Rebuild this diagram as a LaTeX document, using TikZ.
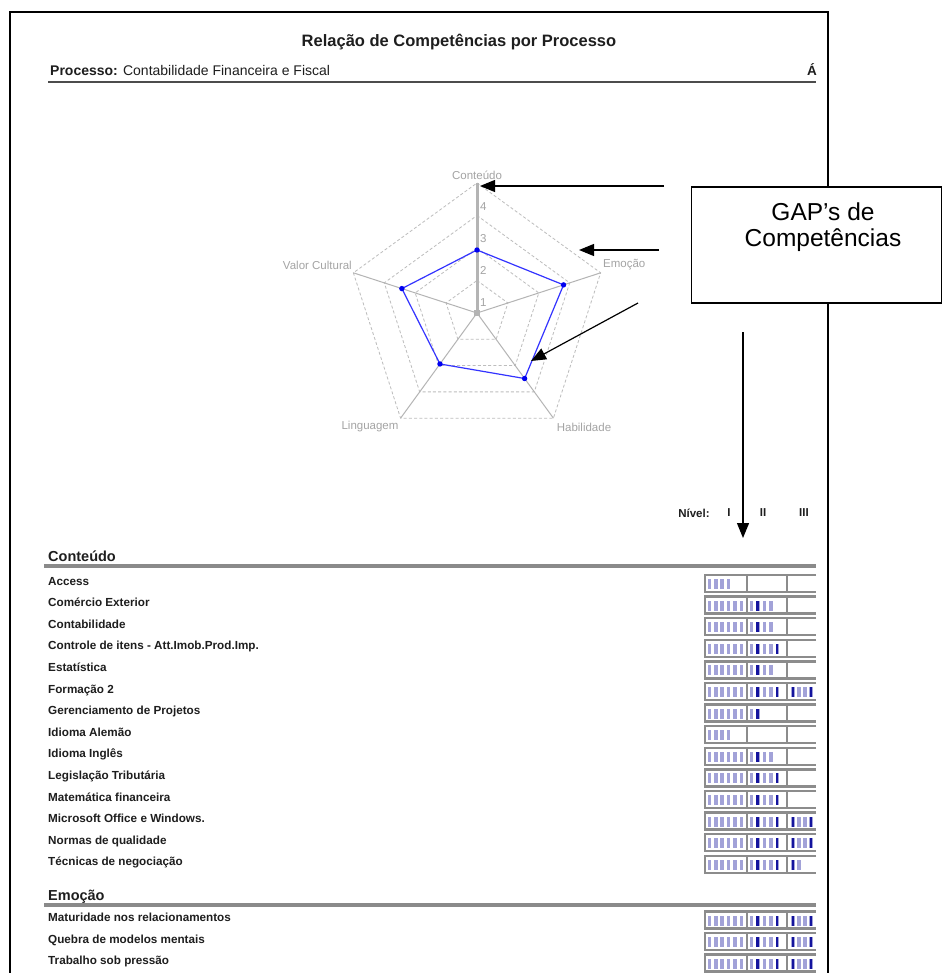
\documentclass[tikz,border=0pt]{standalone}
\usepackage{fontspec}
\setmainfont{Liberation Sans}
\usetikzlibrary{arrows.meta,calc}

\definecolor{gridgray}{HTML}{BDBDBD}
\definecolor{axisgray}{HTML}{B4B4B4}
\definecolor{labelgray}{HTML}{A4A4A4}
\definecolor{chartblue}{HTML}{3333FF}
\definecolor{dotblue}{HTML}{0000F0}
\definecolor{rulegray}{HTML}{8A8A8A}
\definecolor{framegray}{HTML}{8C8C8C}
\definecolor{tickpale}{HTML}{A2A2D8}
\definecolor{tickdark}{HTML}{14149E}
\definecolor{inkgray}{HTML}{1E1E1E}

\begin{document}
\begin{tikzpicture}[x=1pt,y=-1pt,
  pagetxt/.style={inner sep=0pt, text=inkgray},
  itemtxt/.style={pagetxt, anchor=west, font=\fontsize{11.7}{13}\selectfont\bfseries,
                  text height=8.5pt, text depth=2.5pt},
  sectxt/.style={pagetxt, anchor=base west, font=\fontsize{14.5}{16}\selectfont\bfseries},
  sectrule/.style={line width=4pt, rulegray},
  axlbl/.style={inner sep=0pt, text=labelgray, font=\fontsize{11.5}{13}\selectfont},
  gridline/.style={gridgray, line width=0.8pt, dash pattern=on 3pt off 2.2pt},
  axisline/.style={axisgray, line width=1pt},
  callout/.style={-{Triangle[length=15pt,width=12pt]}, line width=1.2pt, black},
  cellframe/.style={framegray, line width=2.5pt},
  paletick/.style={fill=tickpale},
  darktick/.style={fill=tickdark},
]
\useasboundingbox[fill=white] (0,0) rectangle (943,973);

% ---- page frame ----
\coordinate (pbl) at (10,980);
\coordinate (ptl) at (10,12);
\coordinate (ptr) at (828,12);
\coordinate (pbr) at (828,980);
\draw[line width=2pt, line join=miter] (pbl) -- (ptl) -- (ptr) -- (pbr);

% ---- heading ----
\node[pagetxt, font=\fontsize{16.5}{18}\selectfont\bfseries] (title) at (459,42)
  {Relação de Competências por Processo};
\node[pagetxt, anchor=base west, font=\fontsize{14}{15}\selectfont] (proc) at (50,76)
  {\textbf{Processo:} Contabilidade Financeira e Fiscal};
\node[pagetxt, anchor=base east, font=\fontsize{13.5}{15}\selectfont\bfseries] (area) at (817,76) {Á};
\coordinate (hr1) at (48,82);
\coordinate (hr2) at (816,82);
\draw[line width=2pt, black!70] (hr1) -- (hr2);

% ---- radar chart ----
\coordinate (C) at (477,313);
\def\R{130}
\foreach \k in {1,2,3,4} {
  \pgfmathsetmacro\rr{\k*\R/4}
  \draw[gridline] ($(C)+(-90:\rr)$) -- ($(C)+(-18:\rr)$) -- ($(C)+(54:\rr)$)
     -- ($(C)+(126:\rr)$) -- ($(C)+(198:\rr)$) -- cycle;
}
\coordinate (vCont) at ($(C)+(-90:\R)$);
\coordinate (vEmo)  at ($(C)+(-18:\R)$);
\coordinate (vHab)  at ($(C)+(54:\R)$);
\coordinate (vLing) at ($(C)+(126:\R)$);
\coordinate (vVal)  at ($(C)+(198:\R)$);
\draw[axisline] (C) -- (vEmo);
\draw[axisline] (C) -- (vHab);
\draw[axisline] (C) -- (vLing);
\draw[axisline] (C) -- (vVal);
\draw[axisgray, line width=3pt] (C) -- (vCont);
\fill[axisgray] ($(C)+(-3,-3)$) rectangle ($(C)+(3,3)$);

\node[axlbl] (lCont) at (477,175) {Conteúdo};
\node[axlbl, anchor=west] (lEmo) at (603,265) {Emoção};
\node[axlbl] (lHab) at (584,427) {Habilidade};
\node[axlbl] (lLing) at (370,427) {Linguagem};
\node[axlbl, anchor=east] (lVal) at (352,265) {Valor Cultural};

\node[axlbl, anchor=west] (s1) at (480,303) {1};
\node[axlbl, anchor=west] (s2) at (480,270) {2};
\node[axlbl, anchor=west] (s3) at (480,239) {3};
\node[axlbl, anchor=west] (s4) at (480,207) {4};

% current profile
\coordinate (pCont) at ($(C)+(-90:63)$);
\coordinate (pEmo)  at ($(C)+(-18:91)$);
\coordinate (pHab)  at ($(C)+(54:81)$);
\coordinate (pLing) at ($(C)+(126:63)$);
\coordinate (pVal)  at ($(C)+(198:79)$);
\draw[chartblue, line width=1.2pt] (pCont) -- (pEmo) -- (pHab) -- (pLing) -- (pVal) -- cycle;
\foreach \p in {pCont,pEmo,pHab,pLing,pVal} \fill[dotblue] (\p) circle (2.7);

% ---- call-out box and arrows ----
\node[draw, line width=1.3pt, fill=white, minimum width=250pt, minimum height=116pt,
      inner sep=0pt] (gapbox) at (816.5,245) {};
\node[inner sep=0pt, font=\fontsize{24.5}{27}\selectfont] (gap1) at (823,212) {GAP’s de};
\node[inner sep=0pt, font=\fontsize{24.5}{27}\selectfont] (gap2) at (823,240) {Competências};

\coordinate (a1s) at (664,186);
\coordinate (a1e) at (480,186);
\coordinate (a2s) at (659,250);
\coordinate (a2e) at (579,250);
\coordinate (a3s) at (638,303);
\coordinate (a3e) at (531,361);
\coordinate (a4s) at (743,332);
\coordinate (a4e) at (743,538);
\draw[callout] (a1s) -- (a1e);
\draw[callout] (a2s) -- (a2e);
\draw[callout] (a3s) -- (a3e);
\draw[callout] (a4s) -- (a4e);

% ---- level header ----
\node[pagetxt, font=\fontsize{11.5}{13}\selectfont\bfseries] (nivel) at (694,513) {Nível:};
\node[pagetxt, font=\fontsize{11.5}{13}\selectfont\bfseries] (nI) at (729,513) {I};
\node[pagetxt, font=\fontsize{11.5}{13}\selectfont\bfseries] (nII) at (763,513) {II};
\node[pagetxt, font=\fontsize{11.5}{13}\selectfont\bfseries] (nIII) at (804,513) {III};

% ---- sections ----
\node[sectxt] (secA) at (48,561.5) {Conteúdo};
\coordinate (rA1) at (44,566);
\coordinate (rA2) at (816,566);
\draw[sectrule] (rA1) -- (rA2);

\node[sectxt] (secB) at (48,900) {Emoção};
\coordinate (rB1) at (44,905);
\coordinate (rB2) at (816,905);
\draw[sectrule] (rB1) -- (rB2);

% ---- competence rows: centre y / ticks in level I / II / III / name ----
\foreach \yy/\na/\nb/\nc/\txt [count=\i] in {
  583.5/4/0/0/Access,
  605.1/6/4/0/Comércio Exterior,
  626.7/6/4/0/Contabilidade,
  648.3/6/5/0/Controle de itens - Att.Imob.Prod.Imp.,
  669.9/6/4/0/Estatística,
  691.5/6/5/4/Formação 2,
  713.1/6/2/0/Gerenciamento de Projetos,
  734.7/4/0/0/Idioma Alemão,
  756.3/6/4/0/Idioma Inglês,
  777.9/6/5/0/Legislação Tributária,
  799.5/6/5/0/Matemática financeira,
  821.1/6/5/4/Microsoft Office e Windows.,
  842.7/6/5/4/Normas de qualidade,
  864.3/6/5/2/Técnicas de negociação,
  920.0/6/5/4/Maturidade nos relacionamentos,
  941.6/6/5/4/Quebra de modelos mentais,
  963.2/6/5/4/Trabalho sob pressão} {
  \node[itemtxt] (item\i) at (48,\yy-1.5) {\txt};
  % level cells
  \draw[cellframe] (705,\yy-8.5) rectangle (747,\yy+8.5);
  \draw[cellframe] (747,\yy-8.5) rectangle (787,\yy+8.5);
  \draw[cellframe] (816,\yy-8.5) -- (787,\yy-8.5) -- (787,\yy+8.5) -- (816,\yy+8.5);
  % level I ticks
  \ifnum\na>0
    \foreach \k in {1,...,\na} \path[paletick] ({707.6+6.4*(\k-1)},\yy-4.5) rectangle ++(3.6,10);
  \fi
  % level II ticks
  \ifnum\nb>0
    \foreach \k in {1,...,\nb} \path[paletick] ({749.6+6.5*(\k-1)},\yy-4.5) rectangle ++(3.6,10);
  \fi
  \ifnum\nb>1 \path[darktick] ({756.2},\yy-4.5) rectangle ++(2.4,10); \fi
  \ifnum\nb>4 \path[darktick] ({775.7},\yy-4.5) rectangle ++(2.4,10); \fi
  % level III ticks
  \ifnum\nc>0
    \foreach \k in {1,...,\nc} \path[paletick] ({791.0+6.1*(\k-1)},\yy-4.5) rectangle ++(3.6,10);
    \path[darktick] ({791.6},\yy-4.5) rectangle ++(2.4,10);
  \fi
  \ifnum\nc>3 \path[darktick] ({809.9},\yy-4.5) rectangle ++(2.4,10); \fi
}
\end{tikzpicture}
\end{document}
